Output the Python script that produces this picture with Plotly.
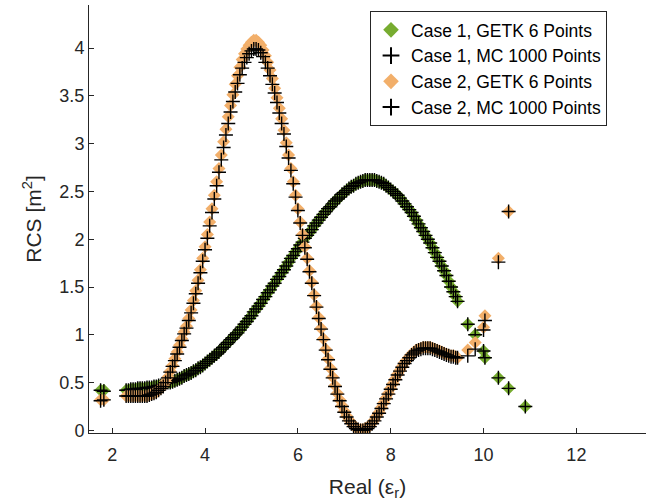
import plotly.graph_objects as go

# Sample positions (real part of permittivity)
x = [1.75, 1.82,
     2.30, 2.35, 2.40, 2.45, 2.50, 2.55, 2.60, 2.65, 2.70, 2.75,
     2.80, 2.85, 2.90, 2.95, 3.00, 3.05, 3.10, 3.15, 3.20, 3.25,
     3.30, 3.35, 3.40, 3.45, 3.50, 3.55, 3.60, 3.65, 3.70, 3.75,
     3.80, 3.85, 3.90, 3.95, 4.00, 4.05, 4.10, 4.15, 4.20, 4.25,
     4.30, 4.35, 4.40, 4.45, 4.50, 4.55, 4.60, 4.65, 4.70, 4.75,
     4.80, 4.85, 4.90, 4.95, 5.00, 5.05, 5.10, 5.15, 5.20, 5.25,
     5.30, 5.35, 5.40, 5.45, 5.50, 5.55, 5.60, 5.65, 5.70, 5.75,
     5.80, 5.85, 5.90, 5.95, 6.00, 6.05, 6.10, 6.15, 6.20, 6.25,
     6.30, 6.35, 6.40, 6.45, 6.50, 6.55, 6.60, 6.65, 6.70, 6.75,
     6.80, 6.85, 6.90, 6.95, 7.00, 7.05, 7.10, 7.15, 7.20, 7.25,
     7.30, 7.35, 7.40, 7.45, 7.50, 7.55, 7.60, 7.65, 7.70, 7.75,
     7.80, 7.85, 7.90, 7.95, 8.00, 8.05, 8.10, 8.15, 8.20, 8.25,
     8.30, 8.35, 8.40, 8.45, 8.50, 8.55, 8.60, 8.65, 8.70, 8.75,
     8.80, 8.85, 8.90, 8.95, 9.00, 9.05, 9.10, 9.15, 9.20, 9.25,
     9.30, 9.35, 9.40,
     9.44, 9.66, 9.82, 10.00, 10.03, 10.32, 10.54, 10.90]

case1_getk = [0.42, 0.42,
              0.42, 0.42, 0.43, 0.43, 0.43, 0.44, 0.44, 0.44, 0.44, 0.45,
              0.45, 0.45, 0.46, 0.46, 0.47, 0.47, 0.48, 0.49, 0.50, 0.50,
              0.51, 0.52, 0.53, 0.54, 0.55, 0.57, 0.58, 0.59, 0.60, 0.62,
              0.63, 0.65, 0.66, 0.68, 0.70, 0.72, 0.74, 0.76, 0.78, 0.80,
              0.82, 0.85, 0.87, 0.90, 0.92, 0.95, 0.97, 1.00, 1.02, 1.05,
              1.08, 1.11, 1.14, 1.17, 1.20, 1.24, 1.27, 1.30, 1.33, 1.37,
              1.40, 1.44, 1.47, 1.51, 1.54, 1.58, 1.61, 1.65, 1.68, 1.72,
              1.76, 1.80, 1.83, 1.87, 1.90, 1.94, 1.97, 2.01, 2.04, 2.07,
              2.10, 2.14, 2.17, 2.20, 2.23, 2.26, 2.29, 2.32, 2.34, 2.37,
              2.40, 2.42, 2.44, 2.47, 2.49, 2.51, 2.53, 2.55, 2.56, 2.58,
              2.59, 2.60, 2.61, 2.62, 2.62, 2.62, 2.62, 2.62, 2.61, 2.60,
              2.59, 2.58, 2.56, 2.54, 2.52, 2.50, 2.48, 2.46, 2.43, 2.40,
              2.37, 2.34, 2.31, 2.28, 2.24, 2.20, 2.16, 2.12, 2.08, 2.04,
              2.00, 1.96, 1.91, 1.86, 1.81, 1.77, 1.72, 1.67, 1.62, 1.56,
              1.50, 1.45, 1.40,
              1.35, 1.11, 1.00, 0.83, 0.76, 0.55, 0.44, 0.25]

case1_mc = [0.42, 0.41,
            0.42, 0.42, 0.43, 0.43, 0.43, 0.44, 0.44, 0.44, 0.44, 0.45,
            0.45, 0.45, 0.46, 0.46, 0.47, 0.47, 0.48, 0.49, 0.50, 0.50,
            0.51, 0.52, 0.53, 0.54, 0.55, 0.57, 0.58, 0.59, 0.60, 0.62,
            0.63, 0.65, 0.66, 0.68, 0.70, 0.72, 0.74, 0.76, 0.78, 0.80,
            0.82, 0.85, 0.87, 0.90, 0.92, 0.95, 0.97, 1.00, 1.02, 1.05,
            1.08, 1.11, 1.14, 1.17, 1.20, 1.24, 1.27, 1.30, 1.33, 1.37,
            1.40, 1.44, 1.47, 1.51, 1.54, 1.58, 1.61, 1.65, 1.68, 1.72,
            1.76, 1.80, 1.83, 1.87, 1.90, 1.94, 1.97, 2.01, 2.04, 2.07,
            2.10, 2.14, 2.17, 2.20, 2.23, 2.26, 2.29, 2.32, 2.34, 2.37,
            2.40, 2.42, 2.44, 2.47, 2.49, 2.51, 2.53, 2.55, 2.56, 2.58,
            2.59, 2.60, 2.61, 2.62, 2.62, 2.62, 2.62, 2.62, 2.61, 2.60,
            2.59, 2.58, 2.56, 2.54, 2.52, 2.50, 2.48, 2.46, 2.43, 2.40,
            2.37, 2.34, 2.31, 2.28, 2.24, 2.20, 2.16, 2.12, 2.08, 2.04,
            2.00, 1.96, 1.91, 1.86, 1.81, 1.77, 1.72, 1.67, 1.62, 1.56,
            1.50, 1.45, 1.40,
            1.35, 1.11, 1.00, 0.83, 0.76, 0.55, 0.44, 0.25]

case2_getk = [0.32, 0.32,
              0.36, 0.36, 0.36, 0.36, 0.36, 0.36, 0.36, 0.36, 0.36, 0.36,
              0.37, 0.38, 0.39, 0.40, 0.42, 0.44, 0.47, 0.51, 0.56, 0.62,
              0.68, 0.75, 0.82, 0.89, 0.96, 1.03, 1.09, 1.17, 1.26, 1.36,
              1.46, 1.57, 1.68, 1.80, 1.92, 2.05, 2.18, 2.32, 2.46, 2.60,
              2.74, 2.88, 3.02, 3.15, 3.28, 3.40, 3.51, 3.62, 3.71, 3.80,
              3.88, 3.94, 3.99, 4.03, 4.06, 4.08, 4.08, 4.06, 4.03, 3.98,
              3.92, 3.85, 3.77, 3.68, 3.58, 3.48, 3.37, 3.26, 3.14, 3.01,
              2.88, 2.74, 2.60, 2.46, 2.32, 2.18, 2.05, 1.92, 1.80, 1.67,
              1.55, 1.42, 1.30, 1.18, 1.07, 0.96, 0.85, 0.75, 0.65, 0.56,
              0.47, 0.39, 0.32, 0.26, 0.20, 0.15, 0.11, 0.08, 0.05, 0.03,
              0.01, 0.01, 0.01, 0.02, 0.03, 0.05, 0.08, 0.11, 0.15, 0.19,
              0.24, 0.29, 0.34, 0.39, 0.44, 0.49, 0.54, 0.59, 0.63, 0.67,
              0.71, 0.74, 0.77, 0.80, 0.82, 0.84, 0.85, 0.86, 0.87, 0.87,
              0.87, 0.87, 0.86, 0.85, 0.84, 0.83, 0.82, 0.81, 0.80, 0.79,
              0.78, 0.78, 0.77,
              0.76, 0.84, 0.92, 1.08, 1.20, 1.80, 2.29, None]

case2_mc = [0.31, 0.32,
            0.36, 0.36, 0.36, 0.36, 0.36, 0.36, 0.36, 0.36, 0.36, 0.36,
            0.37, 0.38, 0.39, 0.40, 0.42, 0.44, 0.46, 0.50, 0.55, 0.61,
            0.67, 0.73, 0.80, 0.87, 0.94, 1.01, 1.07, 1.15, 1.23, 1.33,
            1.43, 1.54, 1.65, 1.77, 1.89, 2.01, 2.14, 2.28, 2.42, 2.56,
            2.70, 2.83, 2.96, 3.09, 3.21, 3.33, 3.44, 3.54, 3.63, 3.72,
            3.79, 3.85, 3.90, 3.94, 3.97, 3.99, 3.99, 3.98, 3.95, 3.91,
            3.85, 3.79, 3.71, 3.62, 3.53, 3.43, 3.32, 3.21, 3.10, 2.97,
            2.85, 2.72, 2.58, 2.44, 2.30, 2.17, 2.04, 1.91, 1.79, 1.66,
            1.54, 1.41, 1.29, 1.17, 1.06, 0.95, 0.84, 0.74, 0.64, 0.55,
            0.46, 0.38, 0.31, 0.25, 0.19, 0.14, 0.10, 0.07, 0.04, 0.02,
            0.01, 0.00, 0.00, 0.01, 0.02, 0.04, 0.07, 0.10, 0.14, 0.18,
            0.23, 0.28, 0.33, 0.38, 0.43, 0.48, 0.53, 0.58, 0.62, 0.66,
            0.70, 0.73, 0.76, 0.79, 0.81, 0.83, 0.84, 0.85, 0.86, 0.86,
            0.86, 0.86, 0.85, 0.84, 0.83, 0.82, 0.81, 0.80, 0.79, 0.78,
            0.77, 0.77, 0.76,
            0.76, 0.78, 0.85, 1.05, 1.15, 1.76, 2.29, None]

x_ticks = [2, 4, 6, 8, 10, 12]
y_ticks = [0, 0.5, 1, 1.5, 2, 2.5, 3, 3.5, 4]
y_tick_labels = ["0", "0.5", "1", "1.5", "2", "2.5", "3", "3.5", "4"]

GREEN = "rgb(119,172,48)"
ORANGE = "rgb(242,175,106)"
FONT = "Liberation Sans, Arial, Helvetica, sans-serif"
AXC = "#262626"

fig = go.Figure()
fig.add_trace(go.Scatter(x=x, y=case1_getk, mode="markers", name="Case 1, GETK 6 Points",
                         marker=dict(symbol="diamond", size=10, color=GREEN, line=dict(width=0))))
fig.add_trace(go.Scatter(x=x, y=case1_mc, mode="markers", name="Case 1, MC 1000 Points",
                         marker=dict(symbol="cross-thin", size=10, color="black",
                                     line=dict(width=1.4, color="black"))))
fig.add_trace(go.Scatter(x=x, y=case2_getk, mode="markers", name="Case 2, GETK 6 Points",
                         marker=dict(symbol="diamond", size=10, color=ORANGE, line=dict(width=0))))
fig.add_trace(go.Scatter(x=x, y=case2_mc, mode="markers", name="Case 2, MC 1000 Points",
                         marker=dict(symbol="cross-thin", size=10, color="black",
                                     line=dict(width=1.4, color="black"))))

axis_common = dict(showline=True, linecolor=AXC, linewidth=1, ticks="inside", ticklen=5,
                   tickcolor=AXC, tickwidth=1, showgrid=False, zeroline=False, mirror=False,
                   tickfont=dict(family=FONT, size=18, color=AXC))

fig.update_layout(
    width=654, height=504,
    margin=dict(l=89, r=8, t=5, b=71),
    paper_bgcolor="white", plot_bgcolor="white",
    font=dict(family=FONT, color=AXC),
    showlegend=True,
    legend=dict(x=0.930, y=0.986, xanchor="right", yanchor="top",
                bgcolor="white", bordercolor=AXC, borderwidth=1,
                font=dict(family=FONT, size=17.5, color="black"),
                tracegroupgap=0, itemsizing="constant"),
    xaxis=dict(range=[1.5, 13.5], tickvals=x_ticks, ticklabelstandoff=5,
               title=dict(text="Real (ε<sub>r</sub>)", font=dict(family=FONT, size=21, color=AXC),
                          standoff=15),
               **axis_common),
    yaxis=dict(range=[-0.027, 4.45], tickvals=y_ticks, ticktext=y_tick_labels,
               title=dict(text="RCS [m<sup>2</sup>]", font=dict(family=FONT, size=21, color=AXC),
                          standoff=12),
               **axis_common),
)

fig.write_html("out.html")
